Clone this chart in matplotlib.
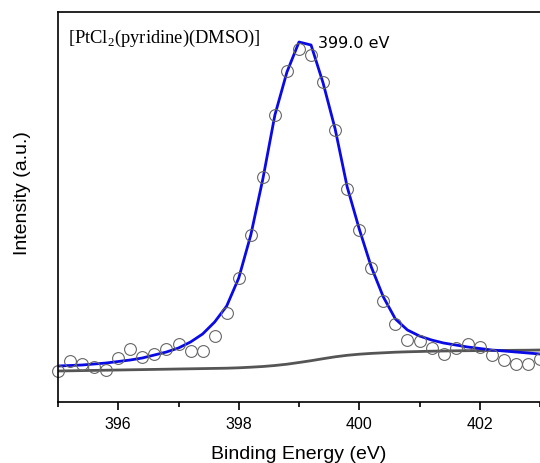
import numpy as np
import matplotlib.pyplot as plt

plt.rcParams['font.family'] = 'Liberation Sans'

# binding energy grid (eV), 0.2 eV steps
energy = np.round(np.arange(395.0, 403.01, 0.2), 1)

# measured intensity (a.u.)
counts = [31, 41, 38, 35, 32, 44, 53, 45, 48, 53, 58, 51, 51, 66, 89, 124,
          167, 225, 287, 331, 353, 347, 320, 272, 213, 172, 134, 101, 78,
          62, 61, 54, 48, 54, 58, 55, 47, 42, 38, 38, 43]

# fitted envelope
fit = [36, 36.5, 37, 38, 39, 40.5, 42, 44, 47, 50, 54, 60, 68, 80, 96, 124,
       167, 223, 287, 330, 360, 357, 319, 273, 215, 173, 135, 105, 83, 72,
       66, 62, 59, 57, 55, 53.5, 52, 51, 50, 49, 48]

# Shirley background
bg = [31, 31.2, 31.4, 31.6, 31.8, 32, 32.2, 32.4, 32.6, 32.8, 33, 33.2,
      33.4, 33.6, 33.8, 34.2, 34.8, 35.5, 36.5, 37.8, 39.5, 41.3, 43.3,
      45.2, 46.7, 47.8, 48.6, 49.2, 49.8, 50.2, 50.5, 50.8, 51, 51.2,
      51.3, 51.4, 51.5, 51.6, 51.7, 51.8, 52]

fig = plt.figure(figsize=(5.4, 4.64), dpi=100)
ax = fig.add_axes([58/540, 1-403/464, 1-58/540, 390/464])

ax.plot(energy, bg, color='#555555', lw=2)
ax.plot(energy, fit, color='#0a0ae6', lw=2)
ax.plot(energy, counts, 'o', ms=8.5, mfc='none', mec='#666666', mew=0.8,
        clip_on=False)

ax.set_xlim(395, 403)
ax.set_ylim(0, 390)
ax.set_xticks([396, 398, 400, 402])
ax.set_xticks([395, 397, 399, 401, 403], minor=True)
ax.set_yticks([])
ax.tick_params(axis='x', which='major', length=6, width=1.2, labelsize=11.5, pad=4)
ax.tick_params(axis='x', which='minor', length=3.5, width=1.2)
ax.spines['right'].set_visible(False)
for s in ['left', 'bottom', 'top']:
    ax.spines[s].set_linewidth(1.2)

ax.set_xlabel('Binding Energy (eV)', fontsize=14, labelpad=10)
ax.set_ylabel('Intensity (a.u.)', fontsize=14, va='center')
ax.yaxis.set_label_coords(-0.073, 0.538)

ax.text(0.02, 0.963, r'[PtCl$_\mathregular{2}$(pyridine)(DMSO)]',
        transform=ax.transAxes, family='Liberation Serif', fontsize=13.3,
        va='top', ha='left')
ax.text(399.32, 359, '399.0 eV', family='DejaVu Sans', fontsize=11.5,
        va='center', ha='left')

fig.savefig('out.png', dpi=100)
